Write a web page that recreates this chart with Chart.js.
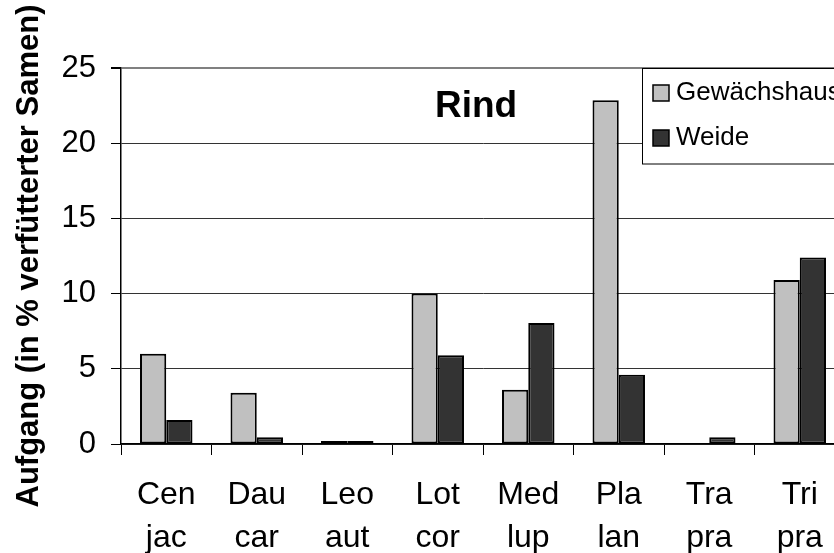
<!DOCTYPE html>
<html>
<head>
<meta charset="utf-8">
<script src="https://cdn.jsdelivr.net/npm/chart.js@4"></script>
<style>
  html, body { margin: 0; padding: 0; background: #fff; overflow: hidden; }
  #wrap { width: 860px; height: 553px; }
</style>
</head>
<body>
<div id="wrap"><canvas id="c" width="860" height="553"></canvas></div>
<script>
// Daten
const gattung = ['Cen', 'Dau', 'Leo', 'Lot', 'Med', 'Pla', 'Tra', 'Tri'];
const art = ['jac', 'car', 'aut', 'cor', 'lup', 'lan', 'pra', 'pra'];
const gewaechshaus = [6.0, 3.4, 0.2, 10.0, 3.6, 22.85, 0, 10.9];
const weide = [1.6, 0.45, 0.2, 5.9, 8.05, 4.6, 0.45, 12.4];
const serienNamen = ['Gewächshaus', 'Weide'];
const yMax = 25;
const yStep = 5;

const schrift = '"Liberation Sans", Arial, Helvetica, sans-serif';

// Zweizeilige Beschriftung
const labels = gattung.map((g, i) => [g, art[i]]);

// Titel "Rind" und Legende innerhalb des Diagramms
const legendePlugin = {
  id: 'legendePlugin',
  afterDraw(chart) {
    const ctx = chart.ctx;
    ctx.save();
    ctx.fillStyle = '#000';
    ctx.textBaseline = 'alphabetic';
    ctx.textAlign = 'left';
    ctx.font = 'bold 37px ' + schrift;
    ctx.fillText('Rind', 435, 117);

    // Legendenkasten
    ctx.fillStyle = '#fff';
    ctx.fillRect(643, 69, 260, 95);
    ctx.strokeStyle = '#000';
    ctx.lineWidth = 1;
    ctx.strokeRect(642.5, 68.5, 260, 95.5);

    chart.data.datasets.forEach((ds, i) => {
      const y = 85 + i * 45;
      ctx.fillStyle = ds.backgroundColor;
      ctx.fillRect(653, y, 16, 16);
      ctx.strokeStyle = '#000';
      ctx.lineWidth = 1.5;
      ctx.strokeRect(653, y, 16, 16);
      ctx.fillStyle = '#000';
      ctx.font = '26px ' + schrift;
      ctx.fillText(ds.label, 676, y + 15);
    });
    ctx.restore();
  }
};

new Chart(document.getElementById('c'), {
  type: 'bar',
  data: {
    labels: labels,
    datasets: [
      {
        label: serienNamen[0],
        data: gewaechshaus,
        backgroundColor: '#c0c0c0',
        borderColor: '#000',
        borderWidth: 2,
        borderSkipped: false
      },
      {
        label: serienNamen[1],
        data: weide,
        backgroundColor: '#333333',
        borderColor: '#000',
        borderWidth: 2,
        borderSkipped: false
      }
    ]
  },
  options: {
    responsive: false,
    animation: false,
    categoryPercentage: 0.58,
    barPercentage: 1.0,
    layout: { padding: { top: 68, right: 15, left: 0, bottom: 0 } },
    plugins: {
      legend: { display: false },
      tooltip: { enabled: false },
      title: { display: false }
    },
    scales: {
      x: {
        afterFit: s => { s.height = 109; },
        grid: {
          display: true,
          drawOnChartArea: false,
          drawTicks: true,
          tickLength: 11,
          offset: true,
          tickColor: '#000'
        },
        border: { color: '#000', width: 1.5 },
        ticks: {
          color: '#000',
          font: { family: schrift, size: 32, lineHeight: 1.36 },
          padding: 18,
          maxRotation: 0,
          autoSkip: false
        }
      },
      y: {
        min: 0,
        max: yMax,
        afterFit: s => { s.width = 121; },
        grid: {
          color: c => (c.tick && c.tick.value === yMax) ? '#808080' : '#333',
          lineWidth: c => (c.tick && c.tick.value === yMax) ? 2 : 1,
          tickLength: 10,
          tickColor: '#000'
        },
        border: { color: '#000', width: 1.5 },
        ticks: {
          stepSize: yStep,
          color: '#000',
          font: { family: schrift, size: 31 },
          padding: 15
        },
        title: {
          display: true,
          text: 'Aufgang (in % verfütterter Samen)',
          color: '#000',
          font: { family: schrift, size: 31, weight: 'bold' },
          padding: { top: 11, bottom: 0 }
        }
      }
    }
  },
  plugins: [legendePlugin]
});
</script>
</body>
</html>
